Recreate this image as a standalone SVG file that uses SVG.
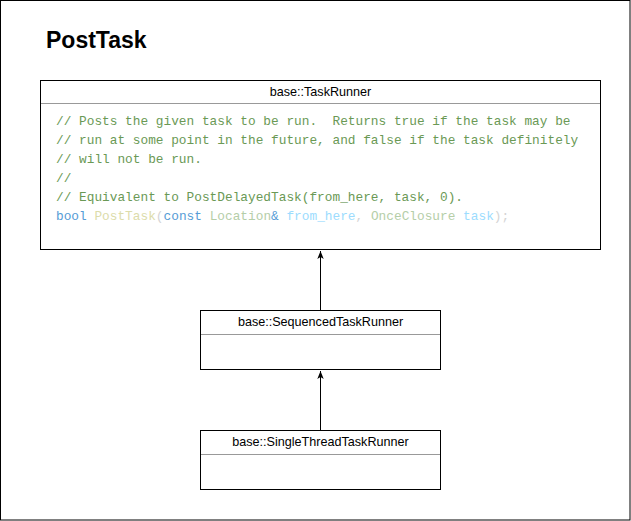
<svg xmlns="http://www.w3.org/2000/svg" width="631" height="521" viewBox="0 0 631 521">
<style>
.box{fill:#fff;stroke:#000;stroke-width:1}
.div{stroke:#999;stroke-width:1}
.lbl{font-family:"Liberation Sans",Arial,sans-serif;font-size:12.6px;fill:#000;text-anchor:middle}
.code{font-family:"Liberation Mono","DejaVu Sans Mono",monospace;font-size:12.8px;white-space:pre}
.cm{fill:#6A9955}
.kw{fill:#569CD6}
.fn{fill:#DCDCAA}
.pn{fill:#D4D4D4}
.ty{fill:#B5CEA8}
.vr{fill:#9CDCFE}
.edge{stroke:#000;stroke-width:1;fill:none}
</style>
<defs>
<marker id="arr" viewBox="0 0 10 10" refX="10" refY="5" markerWidth="8" markerHeight="8" markerUnits="userSpaceOnUse" orient="auto">
<path d="M0,1 L10,5 L0,9 L2.5,5 Z" fill="#000"/>
</marker>
</defs>
<rect x="0.5" y="0.5" width="629.5" height="519.5" fill="#fff" stroke="#000"/>
<text x="46" y="48" font-family="'Liberation Sans',Arial,sans-serif" font-size="23" font-weight="bold" fill="#000">PostTask</text>
<g id="connectors">
<path class="edge" d="M320.5,310.5 L320.5,251" marker-end="url(#arr)"/>
<path class="edge" d="M320.5,430.5 L320.5,371" marker-end="url(#arr)"/>
</g>
<g id="TaskRunner">
<rect class="box" x="40.5" y="80.5" width="560" height="169"/>
<line class="div" x1="41" y1="103.5" x2="600" y2="103.5"/>
<text class="lbl" x="320.5" y="95.5">base::TaskRunner</text>
<text class="code cm" x="56" y="125">// Posts the given task to be run.  Returns true if the task may be</text>
<text class="code cm" x="56" y="144">// run at some point in the future, and false if the task definitely</text>
<text class="code cm" x="56" y="163">// will not be run.</text>
<text class="code cm" x="56" y="182">//</text>
<text class="code cm" x="56" y="201">// Equivalent to PostDelayedTask(from_here, task, 0).</text>
<text class="code" x="56" y="220"><tspan class="kw">bool</tspan> <tspan class="fn">PostTask</tspan><tspan class="pn">(</tspan><tspan class="kw">const</tspan> <tspan class="ty">Location</tspan><tspan class="kw">&amp;</tspan> <tspan class="vr">from_here</tspan><tspan class="pn">, </tspan><tspan class="ty">OnceClosure</tspan> <tspan class="vr">task</tspan><tspan class="pn">);</tspan></text>
</g>
<g id="SequencedTaskRunner">
<rect class="box" x="200.5" y="310.5" width="240" height="59"/>
<line class="div" x1="201" y1="334.5" x2="440" y2="334.5"/>
<text class="lbl" x="320.5" y="325.5">base::SequencedTaskRunner</text>
</g>
<g id="SingleThreadTaskRunner">
<rect class="box" x="200.5" y="430.5" width="240" height="59"/>
<line class="div" x1="201" y1="454.5" x2="440" y2="454.5"/>
<text class="lbl" x="320.5" y="445.5">base::SingleThreadTaskRunner</text>
</g>
</svg>
